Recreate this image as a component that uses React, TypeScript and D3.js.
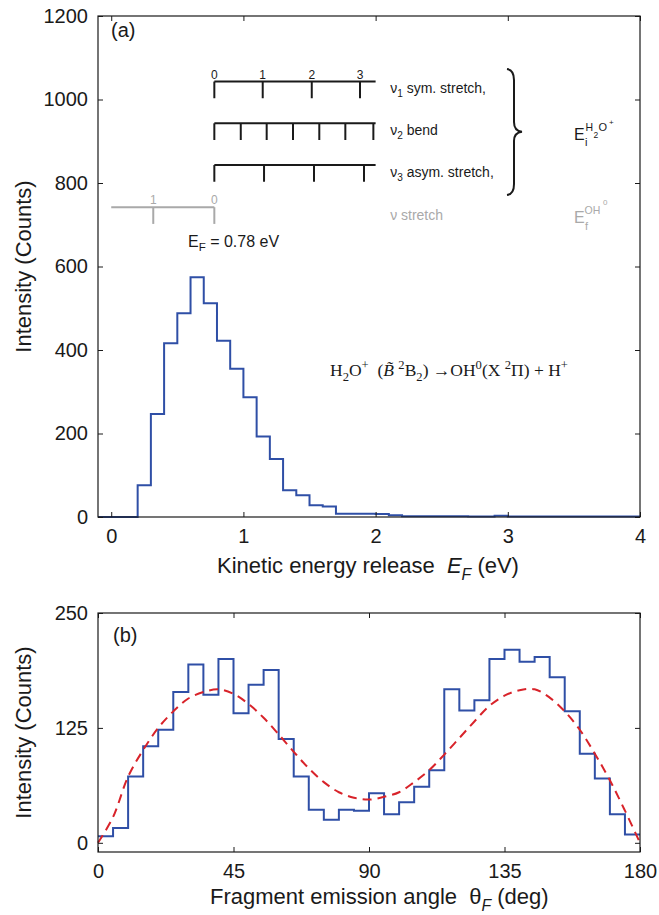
import React, { useEffect, useRef } from "react";
import * as d3 from "d3";

const W = 659;
const H = 915;
const FONT = "'Liberation Sans', Arial, Helvetica, sans-serif";
const SERIF = "'Liberation Serif', 'Times New Roman', serif";
const BLUE = "#2f4fa6";
const RED = "#d8232a";
const GRAY = "#a9a9a9";
const INK = "#1a1a1a";

// ---- panel (a): kinetic energy release, 0.1 eV bins starting at -0.1 eV
const keBinStart = -0.1;
const keBinWidth = 0.1;
const keCounts = [
  0, 0, 0, 76, 247, 416, 488, 574, 512, 422, 355, 287, 193, 139, 64, 52, 28, 25,
  8, 8, 8, 7, 4, 2, 2, 2, 2, 2, 1, 1, 3, 1, 1, 1, 1, 1, 1, 1, 1, 1, 1,
];
const keXTicks = [0, 1, 2, 3, 4];
const keYTicks = [0, 200, 400, 600, 800, 1000, 1200];

// vibrational ladders drawn above the histogram (eV positions)
const nu1Levels = [0.78, 1.146, 1.517, 1.882];
const nu1Labels = ["0", "1", "2", "3"];
const nu2Levels = [0.78, 0.98, 1.176, 1.375, 1.574, 1.771, 1.983];
const nu3Levels = [0.78, 1.156, 1.534, 1.912];
const ohLevels = [0.78, 0.318];
const ohLabels = ["0", "1"];
const ladderEnd = 2.0;
const ohStart = 0.0;
const ladderRows = [1043, 943, 843]; // count level of each H2O+ ladder
const ohRow = 742;
const tickDrop = 40;
const modeNames = ["sym. stretch,", "bend", "asym. stretch,"];
const modeIdx = ["1", "2", "3"];

// ---- panel (b): angular distribution, 5 deg bins
const angBinWidth = 5;
const angCounts = [
  7, 16, 72, 105, 123, 164, 194, 161, 200, 141, 172, 188, 113, 72, 36, 25, 36, 35,
  54, 31, 44, 61, 79, 167, 144, 155, 200, 210, 197, 202, 180, 143, 97, 70, 31, 9,
];
const fitAngles = d3.range(0, 181, 5);
const fitValues = [
  0, 28, 72, 101, 125, 143, 157, 164, 167, 162, 151, 136, 118, 99, 81, 66, 55, 49,
  47, 50, 55, 66, 79, 96, 114, 132, 149, 160, 166, 167, 158, 143, 123, 97, 68, 35, 0,
];
const angXTicks = [0, 45, 90, 135, 180];
const angYTicks = [0, 125, 250];

type Seg = { t: string; k?: "sub" | "sup"; i?: boolean };

function rich(sel: any, segs: Seg[], size: number) {
  let cur = 0;
  segs.forEach((s) => {
    const target = s.k === "sup" ? -0.38 * size : s.k === "sub" ? 0.3 * size : 0;
    sel
      .append("tspan")
      .attr("dy", target - cur)
      .attr("font-size", s.k ? size * 0.72 : size)
      .attr("font-style", s.i ? "italic" : null)
      .text(s.t);
    cur = target;
  });
}

function frame(g: any, x: any, y: any, xTicks: number[], yTicks: number[]) {
  const [x0, x1] = x.range();
  const [y0, y1] = y.range();
  const ax = (sel: any) => {
    sel.select(".domain").remove();
    sel.selectAll("line").attr("stroke", INK);
    sel.selectAll("text").attr("font-family", FONT).attr("font-size", 20).attr("fill", INK);
  };
  g.append("g").attr("transform", `translate(0,${y0})`)
    .call(d3.axisBottom(x).tickValues(xTicks).tickSizeInner(-5).tickSizeOuter(0).tickPadding(12).tickFormat(d3.format("d")))
    .call(ax);
  g.append("g").attr("transform", `translate(0,${y1})`)
    .call(d3.axisTop(x).tickValues(xTicks).tickSizeInner(-5).tickSizeOuter(0).tickFormat(() => ""))
    .call(ax);
  g.append("g").attr("transform", `translate(${x0},0)`)
    .call(d3.axisLeft(y).tickValues(yTicks).tickSizeInner(-5).tickSizeOuter(0).tickPadding(10).tickFormat(d3.format("d")))
    .call(ax);
  g.append("g").attr("transform", `translate(${x1},0)`)
    .call(d3.axisRight(y).tickValues(yTicks).tickSizeInner(-5).tickSizeOuter(0).tickFormat(() => ""))
    .call(ax);
  g.append("rect")
    .attr("x", x0).attr("y", y1).attr("width", x1 - x0).attr("height", y0 - y1)
    .attr("fill", "none").attr("stroke", INK).attr("stroke-width", 1.2);
}

function stairs(edges: number[], vals: number[]) {
  const pts = vals.map((v, i) => [edges[i], v] as [number, number]);
  pts.push([edges[vals.length], vals[vals.length - 1]]);
  return pts;
}

export default function App() {
  const ref = useRef<SVGSVGElement>(null);

  useEffect(() => {
    const svg = d3.select(ref.current);
    svg.selectAll("*").remove();

    // ================= panel (a)
    const xa = d3.scaleLinear().domain([-0.1, 4]).range([98, 640]);
    const ya = d3.scaleLinear().domain([0, 1200]).range([517, 16]);
    const ga = svg.append("g");

    const keEdges = d3.range(keCounts.length + 1).map((i) => keBinStart + i * keBinWidth);
    ga.append("path")
      .datum(stairs(keEdges, keCounts))
      .attr("fill", "none").attr("stroke", BLUE).attr("stroke-width", 2)
      .attr("d", d3.line<[number, number]>().x((d) => xa(d[0])).y((d) => ya(d[1])).curve(d3.curveStepAfter));

    frame(ga, xa, ya, keXTicks, keYTicks);

    // ladders
    const ladders = [nu1Levels, nu2Levels, nu3Levels];
    ladders.forEach((lv, r) => {
      const yy = ya(ladderRows[r]);
      ga.append("line")
        .attr("x1", xa(lv[0])).attr("x2", xa(ladderEnd)).attr("y1", yy).attr("y2", yy)
        .attr("stroke", INK).attr("stroke-width", 2);
      ga.selectAll(null).data(lv).join("line")
        .attr("x1", (d) => xa(d)).attr("x2", (d) => xa(d))
        .attr("y1", yy).attr("y2", ya(ladderRows[r] - tickDrop))
        .attr("stroke", INK).attr("stroke-width", 2);
      const t = ga.append("text")
        .attr("x", xa(2.11)).attr("y", yy + 11.5)
        .attr("font-family", FONT).attr("fill", INK).style("white-space", "pre");
      rich(t, [{ t: "ν" }, { t: modeIdx[r], k: "sub" }, { t: " " + modeNames[r] }], 14);
    });
    ga.selectAll(null).data(nu1Levels).join("text")
      .attr("x", (d) => xa(d)).attr("y", ya(ladderRows[0]) - 3)
      .attr("text-anchor", "middle").attr("font-family", FONT).attr("font-size", 12).attr("fill", INK)
      .text((d, i) => nu1Labels[i]);

    // OH ladder (grey)
    const yo = ya(ohRow);
    ga.append("line")
      .attr("x1", xa(ohStart)).attr("x2", xa(ohLevels[0])).attr("y1", yo).attr("y2", yo)
      .attr("stroke", GRAY).attr("stroke-width", 2);
    ga.selectAll(null).data(ohLevels).join("line")
      .attr("x1", (d) => xa(d)).attr("x2", (d) => xa(d))
      .attr("y1", yo).attr("y2", ya(ohRow - tickDrop))
      .attr("stroke", GRAY).attr("stroke-width", 2);
    ga.selectAll(null).data(ohLevels).join("text")
      .attr("x", (d) => xa(d)).attr("y", yo - 3)
      .attr("text-anchor", "middle").attr("font-family", FONT).attr("font-size", 12).attr("fill", GRAY)
      .text((d, i) => ohLabels[i]);
    ga.append("text")
      .attr("x", xa(2.11)).attr("y", yo + 12.5)
      .attr("font-family", FONT).attr("font-size", 14).attr("fill", GRAY)
      .text("ν stretch");

    // brace
    ga.append("path")
      .attr("d", "M507,69 Q514,70 514,80 L514,122 Q514,131 522,131.7 Q514,132.5 514,141 L514,184 Q514,194 507,195")
      .attr("fill", "none").attr("stroke", INK).attr("stroke-width", 2);

    // E_i^{H2O+}
    const ei = ga.append("g").attr("font-family", FONT).attr("fill", INK);
    ei.append("text").attr("x", 574).attr("y", 140).attr("font-size", 16).text("E");
    ei.append("text").attr("x", 585).attr("y", 146).attr("font-size", 11).text("i");
    ei.append("text").attr("x", 585.5).attr("y", 130.5).attr("font-size", 10.5).text("H");
    ei.append("text").attr("x", 593.5).attr("y", 138).attr("font-size", 8.5).text("2");
    ei.append("text").attr("x", 598.5).attr("y", 130.5).attr("font-size", 11).text("O");
    ei.append("text").attr("x", 609).attr("y", 125).attr("font-size", 8).text("+");
    const ef = ga.append("g").attr("font-family", FONT).attr("fill", GRAY);
    ef.append("text").attr("x", 574).attr("y", 222.5).attr("font-size", 16).text("E");
    ef.append("text").attr("x", 585).attr("y", 230).attr("font-size", 11).text("f");
    ef.append("text").attr("x", 584.5).attr("y", 213.5).attr("font-size", 10.5).text("OH");
    ef.append("text").attr("x", 603).attr("y", 205).attr("font-size", 8).text("0");

    // E_F = 0.78 eV
    const efl = ga.append("text").attr("x", 188).attr("y", 246.5)
      .attr("font-family", FONT).attr("fill", INK).style("white-space", "pre");
    rich(efl, [{ t: "E" }, { t: "F", k: "sub" }, { t: " = 0.78 eV" }], 16);

    // reaction
    const rx = ga.append("text").attr("x", 330).attr("y", 376)
      .attr("font-family", SERIF).attr("fill", INK).style("white-space", "pre");
    rich(rx, [
      { t: "H" }, { t: "2", k: "sub" }, { t: "O" }, { t: "+", k: "sup" },
      { t: "  (" }, { t: "B\u0303", i: true }, { t: " " }, { t: "2", k: "sup" }, { t: "B" }, { t: "2", k: "sub" },
      { t: ") →OH" }, { t: "0", k: "sup" }, { t: "(X " }, { t: "2", k: "sup" }, { t: "Π) + H" }, { t: "+", k: "sup" },
    ], 17.5);

    ga.append("text").attr("x", 111).attr("y", 37)
      .attr("font-family", FONT).attr("font-size", 20).attr("fill", INK).text("(a)");

    ga.append("text")
      .attr("transform", `translate(31,${(ya.range()[0] + ya.range()[1]) / 2}) rotate(-90)`)
      .attr("text-anchor", "middle").attr("font-family", FONT).attr("font-size", 22).attr("fill", INK)
      .text("Intensity (Counts)");
    const xla = ga.append("text").attr("x", 217).attr("y", 573)
      .attr("font-family", FONT).attr("fill", INK).style("white-space", "pre");
    rich(xla, [{ t: "Kinetic energy release  " }, { t: "E", i: true }, { t: "F", k: "sub", i: true }, { t: " (eV)" }], 22);

    // ================= panel (b)
    const xb = d3.scaleLinear().domain([0, 180]).range([98, 640]);
    const yb = d3.scaleLinear().domain([-10, 250]).range([852, 613]);
    const gb = svg.append("g");

    const angEdges = d3.range(angCounts.length + 1).map((i) => i * angBinWidth);
    gb.append("path")
      .datum(stairs(angEdges, angCounts))
      .attr("fill", "none").attr("stroke", BLUE).attr("stroke-width", 2)
      .attr("d", d3.line<[number, number]>().x((d) => xb(d[0])).y((d) => yb(d[1])).curve(d3.curveStepAfter));

    gb.append("path")
      .datum(fitAngles.map((a, i) => [a, fitValues[i]] as [number, number]))
      .attr("fill", "none").attr("stroke", RED).attr("stroke-width", 2).attr("stroke-dasharray", "9,6")
      .attr("d", d3.line<[number, number]>().x((d) => xb(d[0])).y((d) => yb(d[1])).curve(d3.curveCatmullRom));

    frame(gb, xb, yb, angXTicks, angYTicks);

    gb.append("text").attr("x", 113).attr("y", 642)
      .attr("font-family", FONT).attr("font-size", 20).attr("fill", INK).text("(b)");
    gb.append("text")
      .attr("transform", `translate(31,${(yb.range()[0] + yb.range()[1]) / 2}) rotate(-90)`)
      .attr("text-anchor", "middle").attr("font-family", FONT).attr("font-size", 22).attr("fill", INK)
      .text("Intensity (Counts)");
    const xlb = gb.append("text").attr("x", 210).attr("y", 904)
      .attr("font-family", FONT).attr("fill", INK).style("white-space", "pre");
    rich(xlb, [{ t: "Fragment emission angle  θ" }, { t: "F", k: "sub", i: true }, { t: " (deg)" }], 22);
  }, []);

  return (
    <svg
      ref={ref}
      width={W}
      height={H}
      style={{ position: "absolute", left: 0, top: 0, background: "#fff" }}
    />
  );
}
